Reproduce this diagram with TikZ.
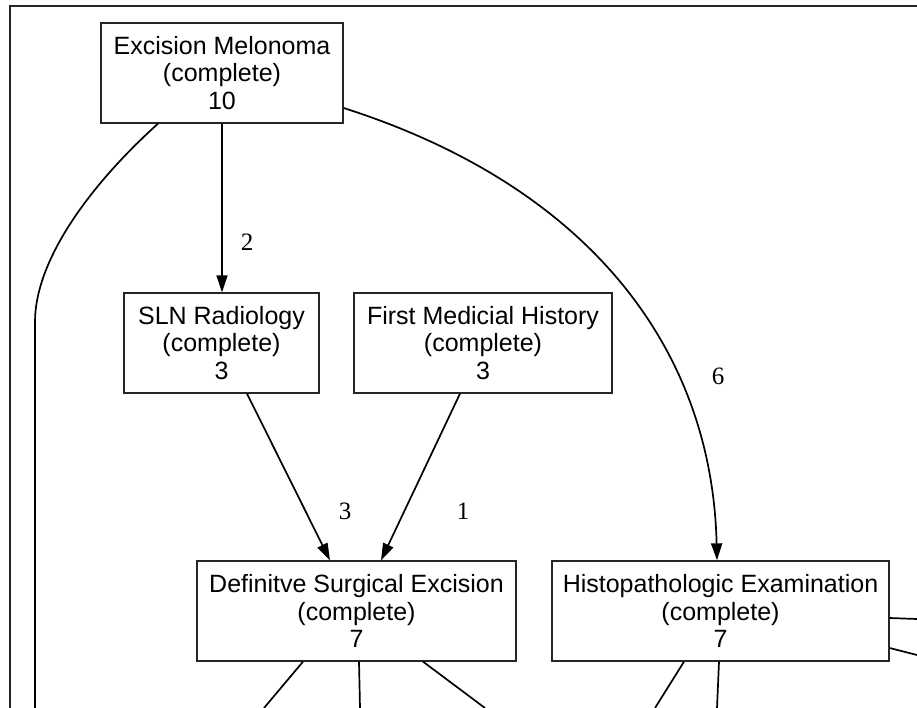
\documentclass[tikz,border=0pt]{standalone}
\usepackage{fontspec}
\setmainfont{Liberation Sans}
\newfontfamily\labfont{Liberation Serif}
\usetikzlibrary{arrows.meta}
\begin{document}
\begin{tikzpicture}[x=1pt,y=-1pt,
  box/.style={draw=black!85, line width=1.3pt, rectangle, inner sep=0pt,
    minimum height=100pt, align=center, font=\fontsize{25}{27.5}\selectfont},
  edge/.style={line width=1.7pt, black},
  arr/.style={edge, -{Triangle[length=17pt,width=11pt]}},
  lab/.style={inner sep=0pt, font=\labfont\fontsize{25}{27.5}\selectfont},
  frame/.style={line width=1.5pt, black!85}]
\useasboundingbox (0,0) rectangle (917,708);
% frame
\coordinate (fr1) at (10,708);
\coordinate (fr2) at (10,6);
\coordinate (fr3) at (917,6);
\draw[frame] (fr1) -- (fr2) -- (fr3);
% nodes
\node[box, minimum width=242pt] (exc) at (222,73) {Excision Melonoma\\(complete)\\10};
\node[box, minimum width=195pt] (sln) at (221.5,343) {SLN Radiology\\(complete)\\3};
\node[box, minimum width=258pt] (fmh) at (483,343) {First Medicial History\\(complete)\\3};
\node[box, minimum width=319pt] (def) at (356.5,611) {Definitve Surgical Excision\\(complete)\\7};
\node[box, minimum width=337pt] (his) at (720.5,611) {Histopathologic Examination\\(complete)\\7};
% free ends
\coordinate (lft) at (35,708);
\coordinate (d1) at (264,708);
\coordinate (d2) at (360,708);
\coordinate (d3) at (485,708);
\coordinate (h1) at (655,708);
\coordinate (h2) at (717,708);
\coordinate (r1) at (917,619);
\coordinate (r2) at (917,655);
% edges
\draw[arr] (exc.south) -- (exc.south |- sln.north);
\draw[arr] ([xshift=25.5pt]sln.south) -- ([xshift=-26.5pt]def.north);
\draw[arr] ([xshift=-23pt]fmh.south) -- ([xshift=24.5pt]def.north);
\draw[arr] ([yshift=-35pt]exc.east) .. controls (585,185) and (712,345) .. ([xshift=-3.5pt]his.north);
\draw[edge] ([xshift=-64pt]exc.south) .. controls (90,185) and (35,260) .. (35,322) -- (lft);
\draw[edge] ([xshift=-53.5pt]def.south) -- (d1);
\draw[edge] ([xshift=2.5pt]def.south) -- (d2);
\draw[edge] ([xshift=66.5pt]def.south) -- (d3);
\draw[edge] ([xshift=-36.5pt]his.south) -- (h1);
\draw[edge] ([xshift=-1.5pt]his.south) -- (h2);
\draw[edge] ([yshift=-7pt]his.east) -- (r1);
\draw[edge] ([yshift=-37pt]his.east) -- (r2);
% labels
\node[lab] (l2) at (247,242) {2};
\node[lab] (l6) at (718,376) {6};
\node[lab] (l3) at (345,511) {3};
\node[lab] (l1) at (463,511) {1};
\end{tikzpicture}
\end{document}
